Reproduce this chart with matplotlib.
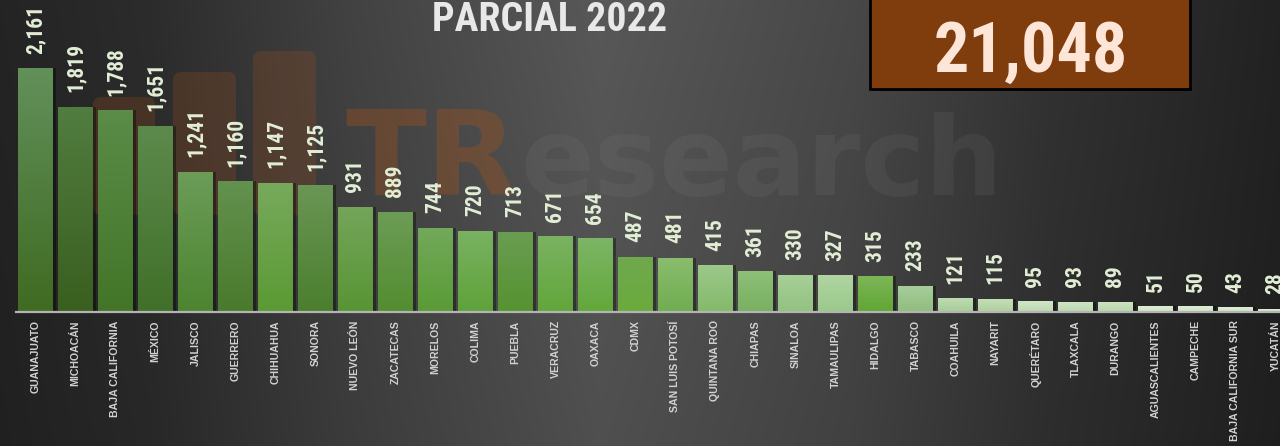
import numpy as np
import matplotlib
matplotlib.use("Agg")
import matplotlib.pyplot as plt
from matplotlib import font_manager as fm
from matplotlib.patches import Rectangle, FancyBboxPatch
from matplotlib.colors import to_rgb

# ---------------- data ----------------
states = ["GUANAJUATO", "MICHOACÁN", "BAJA CALIFORNIA", "MÉXICO", "JALISCO",
          "GUERRERO", "CHIHUAHUA", "SONORA", "NUEVO LEÓN", "ZACATECAS",
          "MORELOS", "COLIMA", "PUEBLA", "VERACRUZ", "OAXACA", "CDMX",
          "SAN LUIS POTOSÍ", "QUINTANA ROO", "CHIAPAS", "SINALOA",
          "TAMAULIPAS", "HIDALGO", "TABASCO", "COAHUILA", "NAYARIT",
          "QUERÉTARO", "TLAXCALA", "DURANGO", "AGUASCALIENTES", "CAMPECHE",
          "BAJA CALIFORNIA SUR", "YUCATÁN"]
values = [2161, 1819, 1788, 1651, 1241, 1160, 1147, 1125, 931, 889,
          744, 720, 713, 671, 654, 487, 481, 415, 361, 330,
          327, 315, 233, 121, 115, 95, 93, 89, 51, 50, 43, 28]
title_text = "PARCIAL 2022"
total_label = "21,048"
watermark_a = "TR"
watermark_b = "esearch"

# ---------------- styles ----------------
bar_top = ['#62905a', '#517d40', '#5b8c48', '#5c8a4c', '#6c9c58', '#63914f',
           '#78a95c', '#6a9655', '#74a55a', '#6c9c56', '#72a95a', '#79b262',
           '#6a9d52', '#7bb262', '#7cb566', '#70a84e', '#8abd6e', '#9cc88a',
           '#8dbf78', '#a8cf98', '#b0d4a2', '#7cb656', '#a9cd9a', '#bedbb0',
           '#c4deb6', '#d0e6c6', '#d0e6c6', '#cde4c2', '#dcecd4', '#dcecd4',
           '#dcecd4', '#dcecd4']
bar_bot = ['#3f6b22', '#3a5f1f', '#437528', '#41702a', '#4c8530', '#4a7a2c',
           '#5a9a33', '#4b7f2e', '#589534', '#538d30', '#5a9b35', '#5fa23a',
           '#559330', '#61a63a', '#63a83a', '#6aab3c', '#70ad50', '#84ba6a',
           '#78b060', '#92c280', '#9ac98a', '#60a634', '#8fbd7e', '#a8cc98',
           '#aed0a0', '#bcd8b0', '#bcd8b0', '#b8d6aa', '#cfe4c6', '#cfe4c6',
           '#cfe4c6', '#cfe4c6']

names = {f.name for f in fm.fontManager.ttflist}
def pick(cands, default="DejaVu Sans"):
    for c in cands:
        if c in names:
            return c
    return default

narrow = pick(["Liberation Sans Narrow", "Roboto Condensed", "Open Sans Condensed",
               "DejaVu Sans Condensed", "Noto Sans Condensed", "Arial Narrow"])
label_font = pick(["Liberation Sans", "Arial", "DejaVu Sans"])
wm_font = pick(["DejaVu Sans", "Open Sans", "Lato"])

W, H = 1280, 446
fig = plt.figure(figsize=(W / 100, H / 100), dpi=100)

# ---------------- background (pixel coords) ----------------
bg = fig.add_axes([0, 0, 1, 1])
bg.set_xlim(0, W)
bg.set_ylim(H, 0)
bg.axis("off")
xs = np.arange(W)
ys = np.arange(H)
xp = [0, 150, 350, 600, 850, 1050, 1280]
vp = [0x24, 0x2c, 0x42, 0x58, 0x48, 0x32, 0x22]
prof = np.interp(xs, xp, vp) / 255.0
vert = 1.0 - 0.10 * (ys / H)
grad = np.clip(vert[:, None] * prof[None, :], 0, 1)
img = np.dstack([grad, grad, grad])
bg.imshow(img, extent=[0, W, H, 0], aspect="auto", zorder=0, interpolation="bilinear")

# watermark logo blocks
for (x0, y0, x1) in [(93, 97, 155), (173, 72, 236), (253, 51, 316)]:
    bg.add_patch(FancyBboxPatch((x0, y0), x1 - x0, 215 - y0,
                                boxstyle="round,pad=0,rounding_size=8",
                                facecolor="#9a4f1e", edgecolor="none",
                                alpha=0.26, zorder=1))

# total box
bg.add_patch(Rectangle((870, -5), 320, 94, facecolor="#7f3d0e",
                       edgecolor="black", linewidth=2, zorder=2))

fig.canvas.draw()
renderer = fig.canvas.get_renderer()

def fit_width(t, target):
    bb = t.get_window_extent(renderer=renderer)
    t.set_fontsize(t.get_fontsize() * target / bb.width)

# watermark text
wa = bg.text(345, 195, watermark_a, fontsize=82, fontweight="bold", family=wm_font,
             color="#a0521d", alpha=0.38, ha="left", va="baseline", zorder=1)
fit_width(wa, 172)
wb = bg.text(520, 195, watermark_b, fontsize=82, fontweight="bold", family=wm_font,
             color="#8a8a8a", alpha=0.12, ha="left", va="baseline", zorder=1)
fit_width(wb, 483)

t_total = bg.text(1031, 72, total_label, fontsize=60, fontweight="bold",
                  family=narrow, fontstretch="condensed", color="#fde5d8",
                  ha="center", va="baseline", zorder=3)
fit_width(t_total, 195)

t_title = bg.text(550, 31, title_text, fontsize=36, fontweight="bold",
                  family=narrow, fontstretch="condensed", color="#e8e8e8",
                  ha="center", va="baseline", zorder=3)
fit_width(t_title, 235)

# ---------------- main chart ----------------
ax = fig.add_axes([16 / W, (H - 312) / H, (W - 16) / W, 312 / H])
ax.patch.set_alpha(0)
for s in ax.spines.values():
    s.set_visible(False)
px_per_unit = 0.1128
xlim = ((16 - 35.5) / 40.0, (W - 35.5) / 40.0)
ylim = (0, 312 / px_per_unit)

x = np.arange(len(states))
# shadows
ax.bar(x + 0.07, values, width=0.875, color="black", alpha=0.35, zorder=1,
       linewidth=0)
bars = ax.bar(x, values, width=0.875, color=bar_bot, zorder=2, linewidth=0)
for b, ct, cb in zip(bars, bar_top, bar_bot):
    g = np.linspace(0, 1, 64)[:, None]
    c1, c2 = np.array(to_rgb(ct)), np.array(to_rgb(cb))
    gimg = (c1[None, None, :] * (1 - g[:, :, None]) + c2[None, None, :] * g[:, :, None])
    x0, y0 = b.get_x(), b.get_y()
    im = ax.imshow(gimg, extent=[x0, x0 + b.get_width(), y0, y0 + b.get_height()],
                   aspect="auto", origin="upper", zorder=3, interpolation="bilinear")
    im.set_clip_path(b)
ax.set_xlim(*xlim)
ax.set_ylim(*ylim)

ax.axhline(0, color="#b4b4b4", lw=1.6, zorder=4, clip_on=False)

for xi, v in zip(x, values):
    ax.annotate(f"{v:,}", (xi, v), xytext=(0, 10.5), textcoords="offset points",
                rotation=90, ha="center", va="bottom", fontsize=15.5,
                fontweight="bold", family=narrow, fontstretch="condensed",
                color="#e2efd6", zorder=5, annotation_clip=False)

ax.set_yticks([])
ax.set_xticks(x)
ax.set_xticklabels(states, rotation=90, fontsize=7.6, fontweight="bold",
                   family=label_font, color="#d2d2d2", va="top")
ax.tick_params(axis="x", length=0, pad=6)

fig.savefig("out.png", dpi=100)
